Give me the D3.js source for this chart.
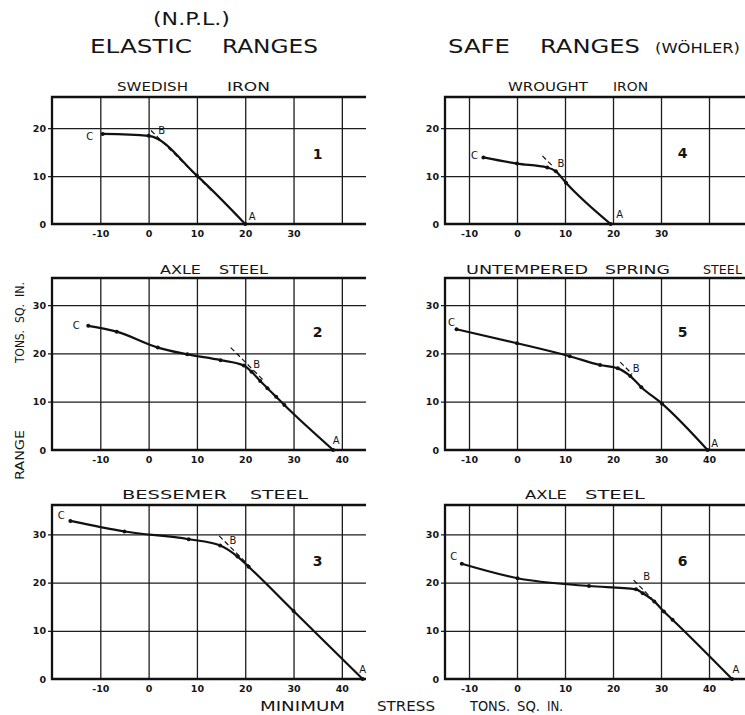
<!DOCTYPE html>
<meta charset="utf-8">
<style>

body { margin: 0; background: #fff; }

text {
  font-family: "DejaVu Sans", sans-serif;
  fill: #151515;
}

.grid line { stroke: #1d1d1d; stroke-width: 1.3; }
.grid path { display: none; }
.frame { fill: none; stroke: #111; stroke-width: 2.3; }
.curve { fill: none; stroke: #111; stroke-width: 2.2; stroke-linejoin: round; stroke-linecap: round; }
.dash { stroke: #111; stroke-width: 1.2; stroke-dasharray: 5,3; }
.ticklabels path, .ticklabels line { display: none; }
.ticklabels text { font-size: 9.5px; font-weight: bold; fill: #151515; }

</style>
<body>
<script src="https://d3js.org/d3.v7.min.js"></script>
<script>

var width = 745,
    height = 715;

/*
  Values: [minimum stress, range] in tons per sq. in.
*/

var panelTitles = [["SWEDISH", "IRON"], ["AXLE", "STEEL"], ["BESSEMER", "STEEL"],
                   ["WROUGHT", "IRON"], ["UNTEMPERED", "SPRING", "STEEL"], ["AXLE", "STEEL"]];
var panelNumbers = ["1", "2", "3", "4", "5", "6"];

var swedishIron   = [[-9.5, 18.8], [0, 18.4], [10, 10.1], [20, 0]];
var axleSteelNPL  = [[-12.5, 25.7], [-6.6, 24.5], [1.9, 21.2], [8, 19.8], [14.9, 18.6], [19.7, 17.5],
                     [21.3, 16.2], [23.1, 14.3], [24.6, 12.8], [26.4, 11], [28.1, 9.3], [38.2, 0]];
var bessemerSteel = [[-16.2, 32.8], [-5, 30.6], [8.3, 29], [14.8, 27.7], [18.4, 25.4],
                     [20.7, 23.3], [30, 14.1], [44.3, 0]];
var wroughtIron   = [[-7, 13.9], [0, 12.6], [6.3, 11.8], [8.1, 11], [10.2, 8.6], [19.5, 0]];
var springSteel   = [[-12.6, 25], [0, 22.1], [11, 19.4], [17.3, 17.6], [21, 16.9], [23.6, 15.3],
                     [25.9, 13], [30.2, 9.6], [39.7, 0]];
var axleSteelW    = [[-11.5, 23.9], [0.1, 20.9], [15, 19.3], [24.8, 18.6], [26.2, 17.8], [28.6, 16.1],
                     [30.6, 14], [32.4, 12.3], [44.8, 0]];

// the knee (B) of each curve
var knees = [[0, 18.4], [19.7, 17.5], [16, 27.4], [8.1, 11], [21.5, 16.6], [26.2, 17.8]];

// dashed 45-degree line through A, drawn between these minimum stresses
var dashSpans = [[0.5, 13], [17, 24], [14.6, 21], [5.3, 7.6], [21.5, 24], [24.3, 28]];

var xTicksShort = [-10, 0, 10, 20, 30];
var xTicksLong  = [-10, 0, 10, 20, 30, 40];
var yTicksShort = [0, 10, 20];
var yTicksLong  = [0, 10, 20, 30];
var gridX = [-10, 0, 10, 20, 30, 40];

/*
  Layout of the six small plots
*/

var cols = [
  { x0: 52,  x1: 366, domain: [-20, 45] },
  { x0: 445, x1: 745, domain: [-15, 47.5] }
];
var rows = [
  { y0: 224, y1: 97,  domain: [0, 26.5], titleY: 91 },
  { y0: 450, y1: 278, domain: [0, 35.6], titleY: 274 },
  { y0: 679, y1: 505, domain: [0, 36.1], titleY: 499 }
];

// word spans (pixels) for the hand-lettered titles
var panels = [
  { data: swedishIron,   col: 0, row: 0, xt: xTicksShort, yt: yTicksShort, spans: [[117, 188], [227, 270]],
    num: [35, 14.5], cOff: [-13, 3], bOff: [13, -5], aOff: [7, -8] },
  { data: axleSteelNPL,  col: 0, row: 1, xt: xTicksLong,  yt: yTicksLong,  spans: [[160, 201], [219, 268]],
    num: [35, 24.5], cOff: [-12, 0], bOff: [13, -1], aOff: [3, -10] },
  { data: bessemerSteel, col: 0, row: 2, xt: xTicksLong,  yt: yTicksLong,  spans: [[122, 227], [250, 308]],
    num: [35, 24.5], cOff: [-9, -5], bOff: [7, -6], aOff: [0, -10] },
  { data: wroughtIron,   col: 1, row: 0, xt: xTicksShort, yt: yTicksShort, spans: [[508, 588], [613, 648]],
    num: [34.5, 14.8], cOff: [-9, -2], bOff: [5, -8], aOff: [9, -10] },
  { data: springSteel,   col: 1, row: 1, xt: xTicksLong,  yt: yTicksLong,  spans: [[466, 588], [605, 670], [703, 742]],
    num: [34.5, 24.5], cOff: [-5, -7], bOff: [16, -1], aOff: [7, -7] },
  { data: axleSteelW,    col: 1, row: 2, xt: xTicksLong,  yt: yTicksLong,  spans: [[525, 567], [585, 645]],
    num: [34.5, 24.5], cOff: [-8, -7], bOff: [4, -17], aOff: [4, -10] }
];

var svg = d3.select("body").append("svg")
    .attr("width", width)
    .attr("height", height);

// stretch a word to fill its span, like the draughtsman's lettering
function word(parent, txt, x0, x1, y, size) {
  return parent.append("text")
      .attr("x", x0)
      .attr("y", y)
      .attr("textLength", x1 - x0)
      .attr("lengthAdjust", "spacingAndGlyphs")
      .style("font-size", size + "px")
      .text(txt);
}

var line = d3.line()
    .x(function(d) { return d[0]; })
    .y(function(d) { return d[1]; })
    .curve(d3.curveMonotoneX);

panels.forEach(function(p, i) {
  var c = cols[p.col], r = rows[p.row];

  var x = d3.scaleLinear().domain(c.domain).range([c.x0, c.x1]);
  var y = d3.scaleLinear().domain(r.domain).range([r.y0, r.y1]);

  var g = svg.append("g");

  // vertical grid
  g.append("g")
      .attr("class", "grid")
      .attr("transform", "translate(0," + r.y0 + ")")
      .call(d3.axisBottom(x).tickValues(gridX).tickSize(-(r.y0 - r.y1)).tickFormat(""));

  // horizontal grid, poking a little past the left edge
  g.append("g")
      .attr("class", "grid")
      .attr("transform", "translate(" + (c.x0 - 4) + ",0)")
      .call(d3.axisLeft(y).tickValues(p.yt.filter(function(v) { return v > 0; }))
        .tickSize(-(c.x1 - c.x0 + 4)).tickFormat(""));

  // frame: left, top, bottom
  g.append("path")
      .attr("class", "frame")
      .attr("d", "M" + c.x1 + "," + r.y1 + "H" + c.x0 + "V" + r.y0 + "H" + c.x1);

  // tick labels
  g.append("g")
      .attr("class", "ticklabels")
      .attr("transform", "translate(0," + r.y0 + ")")
      .call(d3.axisBottom(x).tickValues(p.xt).tickSize(0).tickPadding(6)
        .tickFormat(function(d) { return d < 0 ? "-" + Math.abs(d) : d; }));

  g.append("g")
      .attr("class", "ticklabels")
      .attr("transform", "translate(" + c.x0 + ",0)")
      .call(d3.axisLeft(y).tickValues(p.yt).tickSize(0).tickPadding(6));

  // dashed tangent through A
  var aX = p.data[p.data.length - 1][0];
  var span = dashSpans[i];
  g.append("line")
      .attr("class", "dash")
      .attr("x1", x(span[0])).attr("y1", y(aX - span[0]))
      .attr("x2", x(span[1])).attr("y2", y(aX - span[1]));

  // the curve
  var pts = p.data.map(function(d) { return [x(d[0]), y(d[1])]; });
  g.append("path")
      .attr("class", "curve")
      .attr("d", line(pts));

  g.selectAll(".dot")
      .data(pts)
      .enter().append("circle")
      .attr("class", "dot")
      .attr("cx", function(d) { return d[0]; })
      .attr("cy", function(d) { return d[1]; })
      .attr("r", 2)
      .style("fill", "#111");

  // C, B, A letters
  var first = pts[0], last = pts[pts.length - 1], knee = [x(knees[i][0]), y(knees[i][1])];
  var letters = [
    { t: "C", p: first, o: p.cOff },
    { t: "B", p: knee,  o: p.bOff },
    { t: "A", p: last,  o: p.aOff }
  ];
  g.selectAll(".ltr")
      .data(letters)
      .enter().append("text")
      .attr("x", function(d) { return d.p[0] + d.o[0]; })
      .attr("y", function(d) { return d.p[1] + d.o[1]; })
      .attr("dy", "0.35em")
      .attr("text-anchor", "middle")
      .style("font-size", "10px")
      .text(function(d) { return d.t; });

  // panel number
  g.append("text")
      .attr("x", x(p.num[0]))
      .attr("y", y(p.num[1]))
      .attr("dy", "0.35em")
      .attr("text-anchor", "middle")
      .style("font-size", "14px")
      .style("font-weight", "bold")
      .text(panelNumbers[i]);

  // title
  panelTitles[i].forEach(function(w, k) {
    word(g, w, p.spans[k][0], p.spans[k][1], r.titleY, 12.5);
  });
});

/*
  Headings and axis names
*/

word(svg, "(N.P.L.)", 153, 230, 25, 17);
word(svg, "ELASTIC", 90, 192, 53, 20);
word(svg, "RANGES", 222, 318, 53, 20);
word(svg, "SAFE", 448, 510, 53, 20);
word(svg, "RANGES", 540, 640, 53, 20);
word(svg, "(WÖHLER)", 655, 740, 53, 13.5);

word(svg, "MINIMUM", 260, 345, 711, 13.5);
word(svg, "STRESS", 377, 435, 711, 13.5);
word(svg, "TONS.", 470, 510, 711, 13.5);
word(svg, "SQ.", 517, 540, 711, 13.5);
word(svg, "IN.", 547, 563, 711, 13.5);

var side = svg.append("g")
    .attr("transform", "translate(24,0) rotate(-90)");

// rotated: x here is minus the page y
word(side, "RANGE", -480, -430, 0, 13);
word(side, "TONS.", -363, -330, 0, 13);
word(side, "SQ.", -323, -304, 0, 13);
word(side, "IN.", -297, -282, 0, 13);

</script>
